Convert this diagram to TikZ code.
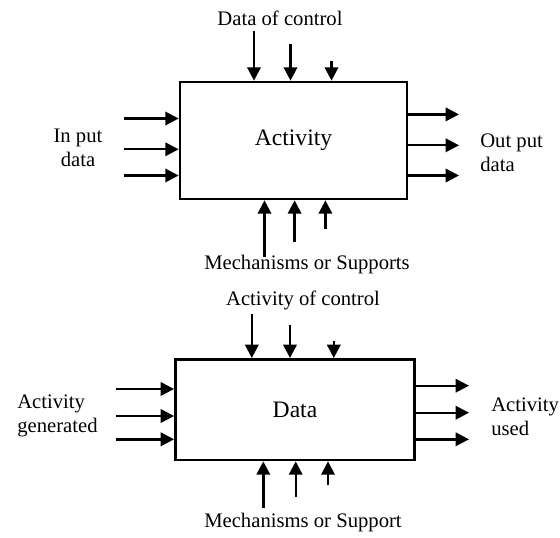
\documentclass[tikz,border=0pt]{standalone}
\usepackage{fontspec}
\setmainfont{Liberation Serif}
\usetikzlibrary{arrows.meta,positioning}

\begin{document}
\begin{tikzpicture}[x=0.75pt,y=-0.75pt,
  every node/.style={font=\fontsize{15.5}{18}\selectfont,inner sep=0pt},
  box/.style={draw,line width=2pt,font=\fontsize{17.7}{20}\selectfont},
  arr/.style={line width=1.8pt,-{Triangle[length=10pt,width=10pt]}}]
\useasboundingbox (0,0) rectangle (560,538);
\node[box,minimum width=170.25pt,minimum height=87.75pt] (act) at (293.5,140.5) {Activity};
\node (ctl) at (280,18) {Data of control};
\node[align=center] (inl) at (78,148) {In put\\data};
\node[align=left,anchor=west] (outl) at (480,153) {Out put\\data};
\node (mech) at (307,265) {Mechanisms or Supports};
\coordinate (ti1) at (254,31);
\coordinate (ti2) at (290.5,44);
\coordinate (ti3) at (331.5,61);
\draw[arr] (ti1) -- (ti1 |- act.north);
\draw[arr] (ti2) -- (ti2 |- act.north);
\draw[arr] (ti3) -- (ti3 |- act.north);
\coordinate (in1) at (124,118.5);
\coordinate (in2) at (124,149.3);
\coordinate (in3) at (124,175.5);
\draw[arr] (in1) -- (in1 -| act.west);
\draw[arr] (in2) -- (in2 -| act.west);
\draw[arr] (in3) -- (in3 -| act.west);
\coordinate (out1) at (459,114.4);
\coordinate (out2) at (459,145.3);
\coordinate (out3) at (459,175.5);
\draw[arr] (out1 -| act.east) -- (out1);
\draw[arr] (out2 -| act.east) -- (out2);
\draw[arr] (out3 -| act.east) -- (out3);
\coordinate (mi1) at (264.5,257);
\coordinate (mi2) at (294.6,242.3);
\coordinate (mi3) at (325.4,229.2);
\draw[arr] (mi1) -- (mi1 |- act.south);
\draw[arr] (mi2) -- (mi2 |- act.south);
\draw[arr] (mi3) -- (mi3 |- act.south);

\node[box,minimum width=179.4pt,minimum height=75.5pt] (dat) at (295,409.7) {Data};
\node (actctl) at (303,300) {Activity of control};
\node[align=left,anchor=west] (gen) at (17,416) {Activity\\generated};
\node[align=left,anchor=west] (used) at (491,417) {Activity\\used};
\node (mech2) at (303,523) {Mechanisms or Support};
\coordinate (tc1) at (251.8,314);
\coordinate (tc2) at (290,325);
\coordinate (tc3) at (333.8,341);
\draw[arr] (tc1) -- (tc1 |- dat.north);
\draw[arr] (tc2) -- (tc2 |- dat.north);
\draw[arr] (tc3) -- (tc3 |- dat.north);
\coordinate (ga1) at (116,389);
\coordinate (ga2) at (116,416);
\coordinate (ga3) at (116,439.3);
\draw[arr] (ga1) -- (ga1 -| dat.west);
\draw[arr] (ga2) -- (ga2 -| dat.west);
\draw[arr] (ga3) -- (ga3 -| dat.west);
\coordinate (ua1) at (469,385.7);
\coordinate (ua2) at (469,412.7);
\coordinate (ua3) at (469,439.3);
\draw[arr] (ua1 -| dat.east) -- (ua1);
\draw[arr] (ua2 -| dat.east) -- (ua2);
\draw[arr] (ua3 -| dat.east) -- (ua3);
\coordinate (ms1) at (263.3,508);
\coordinate (ms2) at (295.7,497);
\coordinate (ms3) at (328,485);
\draw[arr] (ms1) -- (ms1 |- dat.south);
\draw[arr] (ms2) -- (ms2 |- dat.south);
\draw[arr] (ms3) -- (ms3 |- dat.south);
\end{tikzpicture}
\end{document}
